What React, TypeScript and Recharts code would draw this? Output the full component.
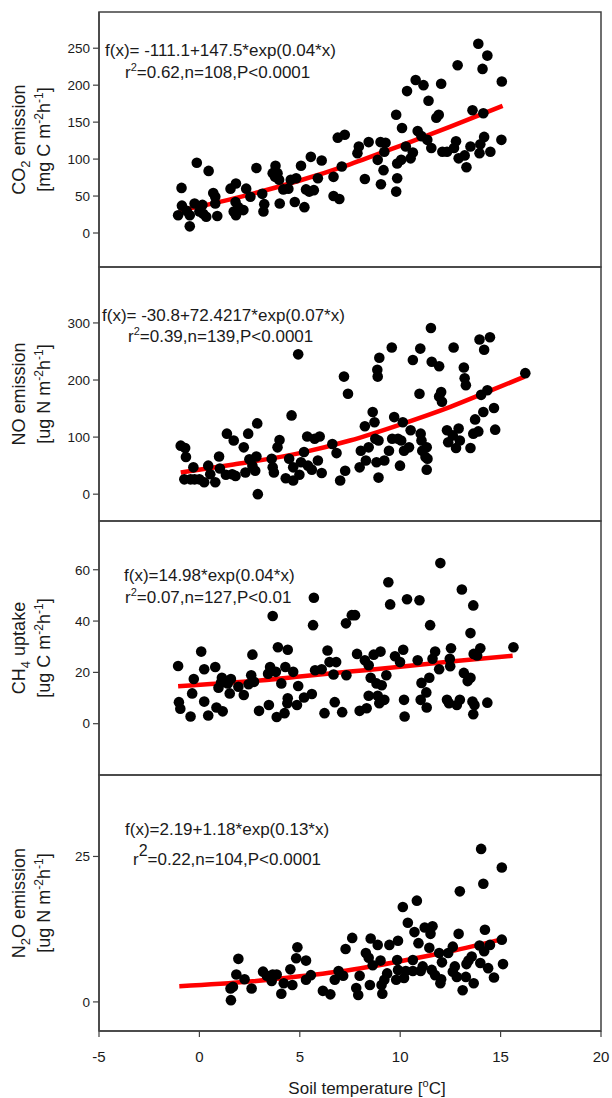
import React from 'react';
import { ComposedChart, Scatter, Line, XAxis, YAxis, ReferenceArea } from 'recharts';

const FONT = '"Liberation Sans", Arial, Helvetica, sans-serif';
const FRAME = '#404040';
const TEXT = '#1a1a1a';
const RED = '#ff0000';

// shared x axis: soil temperature [°C]
const tempTicks = [-5, 0, 5, 10, 15, 20];
const tempDomain: [number, number] = [-5, 20];

// ---------- CO2 emission [mg C m-2 h-1] ----------
const co2Ticks = [0, 50, 100, 150, 200, 250];
const co2Domain: [number, number] = [-46, 299];
const co2Points: [number, number][] = [
  [-0.89, 61], [-1.06, 24], [-0.87, 37], [-0.48, 9], [-0.48, 24], [-0.24, 40], [-0.13, 95], [0, 29],
  [0.15, 38], [0.34, 22], [0.46, 84], [0.69, 54], [0.79, 49], [0.79, 40], [0.89, 23], [1.55, 60],
  [1.71, 29], [1.82, 67], [1.8, 42], [1.82, 24], [2.19, 31], [2.33, 60], [2.54, 49], [2.84, 88],
  [3.13, 53], [3.23, 39], [3.19, 29], [3.79, 91], [3.89, 81], [3.77, 76], [3.97, 72], [4.0, 40],
  [4.43, 60], [4.55, 72], [4.75, 42], [4.82, 74], [5.06, 91], [5.23, 35], [5.31, 59], [5.47, 56],
  [5.55, 103], [5.9, 74], [6.09, 98], [6.68, 76], [6.68, 50], [6.89, 129], [6.97, 46], [7.09, 90],
  [7.24, 133], [7.87, 108], [7.94, 117], [8.24, 73], [8.43, 123], [8.88, 99], [9.02, 123], [9.04, 66],
  [9.17, 85], [9.27, 122], [9.21, 110], [9.8, 160], [9.8, 56], [9.85, 74], [9.85, 94], [10.05, 99],
  [10.09, 142], [10.28, 117], [10.34, 192], [10.52, 101], [10.63, 109], [10.77, 207], [10.87, 138], [11.16, 200],
  [11.06, 131], [11.41, 179], [11.55, 115], [11.8, 156], [11.92, 160], [12.04, 202], [12.1, 110], [12.33, 110],
  [12.68, 115], [12.78, 124], [12.86, 227], [12.91, 101], [13.21, 105], [13.3, 89], [13.5, 117], [13.6, 166],
  [13.89, 256], [13.95, 108], [13.99, 120], [14.1, 222], [14.14, 162], [14.18, 130], [14.34, 240], [14.49, 110],
  [15.06, 205], [15.04, 126], [-0.63, 30], [0.19, 26], [1.94, 35], [3.65, 81], [4.18, 59], [5.7, 58], [11.35, 126],
];
const co2Fit: [number, number][] = [
  [-1, 30], [0, 36], [2.5, 52], [5, 71], [7.5, 93], [10, 118], [12.5, 144], [15.1, 172],
];

// ---------- NO emission [ug N m-2 h-1] ----------
const noTicks = [0, 100, 200, 300];
const noDomain: [number, number] = [-47, 398];
const noPoints: [number, number][] = [
  [-0.93, 85], [-0.71, 81], [-0.67, 65], [-0.75, 26], [-0.44, 26], [-0.3, 47], [-0.24, 26], [0, 26],
  [0.24, 21], [0.44, 50], [0.54, 35], [0.79, 21], [0.98, 66], [1.02, 45], [1.37, 106], [1.63, 35],
  [1.71, 94], [2.21, 82], [2.29, 38], [2.43, 106], [2.49, 61], [2.64, 50], [2.78, 41], [2.88, 124],
  [2.91, 0], [2.84, 66], [3.6, 62], [3.65, 47], [3.89, 82], [3.99, 95], [4.3, 28], [4.59, 138],
  [4.47, 62], [4.67, 47], [4.92, 245], [4.98, 34], [5.06, 56], [5.21, 74], [5.37, 101], [5.6, 43],
  [5.74, 97], [5.9, 59], [5.99, 101], [6.09, 37], [6.62, 88], [6.83, 72], [7.01, 24], [7.2, 206],
  [7.26, 41], [7.4, 176], [7.98, 47], [8.04, 76], [8.24, 119], [8.29, 59], [8.63, 144], [8.72, 126],
  [8.76, 97], [8.82, 56], [8.86, 218], [8.88, 206], [8.92, 94], [8.92, 29], [8.96, 239], [9.21, 59],
  [9.44, 76], [9.58, 257], [9.6, 97], [9.7, 135], [9.89, 97], [9.99, 50], [10.13, 126], [10.19, 76],
  [10.44, 82], [10.52, 112], [10.63, 235], [10.96, 176], [11.0, 255], [11.02, 106], [11.06, 94], [11.1, 76],
  [11.32, 82], [11.36, 62], [11.32, 43], [11.53, 291], [11.57, 232], [11.94, 224], [11.94, 171], [12.04, 179],
  [12.08, 162], [12.33, 112], [12.39, 91], [12.62, 103], [12.66, 257], [12.78, 81], [12.91, 115], [12.97, 94],
  [13.17, 222], [13.21, 203], [13.27, 191], [13.5, 81], [13.64, 106], [13.73, 131], [13.89, 110], [13.95, 271],
  [14.03, 174], [14.14, 144], [14.18, 253], [14.34, 182], [14.47, 275], [14.67, 151], [14.73, 113], [16.23, 212],
  [1.32, 34], [1.8, 32], [3.71, 38], [4.67, 24], [5.41, 50], [10.05, 94], [11.26, 65], [8.43, 82],
];
const noFit: [number, number][] = [
  [-0.93, 38], [1.7, 52], [5, 72], [7.5, 94], [10, 122], [12.5, 153], [14.4, 180], [16.2, 206],
];

// ---------- CH4 uptake [ug C m-2 h-1] ----------
const ch4Ticks = [0, 20, 40, 60];
const ch4Domain: [number, number] = [-20, 79];
const ch4Points: [number, number][] = [
  [-1.06, 22.5], [-1.02, 8.4], [-0.95, 5.8], [-0.44, 2.8], [-0.36, 11.8], [-0.28, 17.4], [0.09, 28.1], [0.24, 21.2],
  [0.24, 8.6], [0.44, 3.2], [0.79, 22.1], [0.85, 6.3], [0.95, 14.0], [1.08, 16.1], [1.12, 17.9], [1.16, 4.8],
  [1.41, 15.7], [1.51, 11.8], [1.57, 17.4], [1.94, 14.4], [2.21, 11.2], [2.45, 15.4], [2.58, 18.9], [2.64, 26.9],
  [2.72, 16.3], [2.97, 5.0], [3.42, 19.5], [3.46, 7.3], [3.52, 22.1], [3.65, 42.0], [3.81, 20.2], [3.85, 2.6],
  [3.91, 29.8], [4.08, 15.7], [4.24, 4.1], [4.28, 22.1], [4.38, 8.0], [4.4, 28.8], [4.4, 9.9], [4.67, 20.2],
  [4.86, 7.3], [4.92, 14.7], [5.21, 10.2], [5.6, 11.6], [5.66, 38.4], [5.7, 49.1], [5.76, 20.8], [6.09, 21.2],
  [6.23, 4.1], [6.38, 28.5], [6.48, 24.0], [6.68, 19.2], [6.74, 8.4], [6.81, 24.0], [7.11, 4.5], [7.3, 39.1],
  [7.32, 18.9], [7.59, 42.3], [7.75, 42.3], [7.85, 27.2], [7.98, 5.0], [8.24, 24.7], [8.33, 6.0], [8.43, 10.9],
  [8.43, 22.8], [8.53, 17.9], [8.68, 26.9], [8.82, 15.7], [8.88, 10.9], [8.96, 8.0], [9.02, 28.1], [9.08, 15.0],
  [9.21, 9.3], [9.31, 18.9], [9.41, 55.1], [9.5, 46.5], [9.74, 26.3], [9.99, 24.0], [10.15, 28.8], [10.19, 9.3],
  [10.22, 2.8], [10.34, 48.5], [10.87, 24.7], [10.96, 48.1], [11.02, 9.3], [11.06, 15.9], [11.3, 12.2], [11.32, 6.3],
  [11.45, 17.9], [11.49, 38.4], [11.61, 25.3], [11.74, 28.1], [11.94, 21.2], [12.0, 62.6], [12.33, 9.3], [12.43, 8.0],
  [12.47, 25.3], [12.49, 22.4], [12.53, 29.4], [12.82, 7.3], [12.97, 9.3], [13.07, 52.3], [13.17, 19.8], [13.36, 16.6],
  [13.5, 35.3], [13.5, 17.9], [13.6, 8.6], [13.64, 46.1], [13.66, 27.2], [13.64, 3.7], [13.7, 7.3], [13.83, 26.6],
  [13.99, 29.4], [14.34, 8.2], [15.64, 29.8],
];
const ch4Fit: [number, number][] = [
  [-1.06, 14.6], [2.5, 16.5], [5, 18.4], [7.5, 20.3], [10, 22.2], [12.5, 24.2], [15.6, 26.5],
];

// ---------- N2O emission [ug N m-2 h-1] ----------
const n2oTicks = [0, 25];
const n2oDomain: [number, number] = [-5, 39];
const n2oPoints: [number, number][] = [
  [1.57, 0.3], [1.55, 2.3], [1.67, 2.6], [1.84, 4.7], [1.94, 7.4], [2.25, 3.9], [2.6, 2.3], [3.17, 5.2],
  [3.36, 4.5], [3.6, 3.6], [3.65, 4.7], [3.85, 4.7], [4.08, 1.4], [4.2, 3.2], [4.53, 5.6], [4.63, 2.9],
  [4.82, 7.5], [4.88, 9.4], [5.31, 7.1], [5.31, 3.8], [5.55, 4.6], [6.15, 1.9], [6.52, 1.3], [6.74, 3.8],
  [6.93, 5.3], [7.16, 4.5], [7.28, 9.1], [7.61, 11.0], [7.81, 2.4], [7.91, 1.2], [7.98, 4.5], [8.29, 8.4],
  [8.43, 7.6], [8.49, 2.9], [8.53, 10.9], [8.63, 6.3], [8.88, 9.8], [9.02, 7.1], [9.07, 2.9], [9.11, 1.4],
  [9.21, 3.8], [9.35, 4.9], [9.46, 9.8], [9.8, 3.8], [9.89, 10.5], [9.85, 7.2], [9.89, 5.5], [10.13, 16.3],
  [10.19, 4.1], [10.28, 5.3], [10.38, 13.6], [10.63, 7.2], [10.63, 5.3], [10.71, 12.0], [10.83, 17.4], [10.91, 10.1],
  [11.02, 5.3], [11.12, 6.1], [11.22, 12.8], [11.45, 9.3], [11.51, 11.7], [11.61, 13.0], [11.57, 5.5], [11.74, 4.6],
  [11.94, 8.4], [12.0, 3.2], [12.08, 6.8], [12.04, 3.9], [12.39, 8.4], [12.62, 9.5], [12.62, 5.2], [12.72, 6.1],
  [12.82, 4.3], [12.91, 11.7], [12.97, 19.0], [13.11, 2.0], [13.27, 4.3], [13.3, 6.5], [13.4, 7.1], [13.56, 7.8],
  [13.66, 3.2], [13.95, 9.7], [13.99, 6.7], [14.03, 26.3], [14.14, 20.3], [14.18, 8.7], [14.22, 12.4], [14.38, 5.8],
  [14.47, 9.8], [14.67, 4.2], [15.06, 23.1], [15.06, 10.7], [15.12, 6.5],
];
const n2oFit: [number, number][] = [
  [-1, 2.7], [2.5, 3.5], [5, 4.4], [7.5, 5.5], [10, 7.0], [12.5, 8.7], [15.1, 10.8],
];

const PAD = 4;
const PLOT_LEFT = 99;
const PLOT_RIGHT = 601;
const PAGE_W = 612;
const PAGE_H = 1098;

const Dot = (props: any) => {
  if (props.cx == null || props.cy == null) return null;
  return <circle cx={props.cx} cy={props.cy} r={5.3} fill="#000" />;
};

type PanelDef = {
  plotTop: number;
  plotBottom: number;
  points: [number, number][];
  fit: [number, number][];
  ticks: number[];
  domain: [number, number];
  title1: React.ReactNode;
  title2: React.ReactNode;
  eq1: React.ReactNode;
  eq2: React.ReactNode;
  eq1Pos: [number, number];
  eq2Pos: [number, number];
  showX?: boolean;
};

function Panel(p: PanelDef) {
  const top = p.plotTop - PAD;
  const plotH = p.plotBottom - p.plotTop;
  const height = p.showX ? PAGE_H - top : plotH + 2 * PAD;
  const xAxisH = PAGE_H - p.plotBottom;
  const scatterData = p.points.map(([x, y]) => ({ x, y }));
  const fitData = p.fit.map(([x, y]) => ({ x, y }));
  const cy = PAD + plotH / 2;

  const yTitle = () => (
    <g fontFamily={FONT} fontSize={18} fill={TEXT}>
      <text x={25} y={cy} transform={`rotate(-90 25 ${cy})`} textAnchor="middle">{p.title1}</text>
      <text x={50} y={cy} transform={`rotate(-90 50 ${cy})`} textAnchor="middle">{p.title2}</text>
    </g>
  );

  const eqLabel = () => (
    <g fontFamily={FONT} fontSize={17} fill={TEXT}>
      <text x={p.eq1Pos[0]} y={PAD + p.eq1Pos[1]}>{p.eq1}</text>
      <text x={p.eq2Pos[0]} y={PAD + p.eq2Pos[1]}>{p.eq2}</text>
    </g>
  );

  const xTitle = () => (
    <text x={367} y={PAD + plotH + 63} textAnchor="middle" fontFamily={FONT} fontSize={17} fill={TEXT}>
      <tspan>Soil temperature [</tspan>
      <tspan dy={-7} fontSize={11}>o</tspan>
      <tspan dy={7}>C]</tspan>
    </text>
  );

  return (
    <div style={{ position: 'absolute', left: 0, top }}>
      <ComposedChart
        width={PAGE_W}
        height={height}
        margin={{ top: PAD, right: PAGE_W - PLOT_RIGHT, bottom: p.showX ? 0 : PAD, left: 0 }}
      >
        <XAxis
          type="number"
          dataKey="x"
          domain={tempDomain}
          ticks={tempTicks}
          allowDataOverflow
          hide={!p.showX}
          height={xAxisH}
          tickSize={6}
          tickMargin={14}
          tick={{ fontSize: 15, fill: TEXT, fontFamily: FONT }}
          axisLine={{ stroke: FRAME, strokeWidth: 1.5 }}
          tickLine={{ stroke: FRAME, strokeWidth: 1.2 }}
          label={p.showX ? xTitle : undefined}
        />
        <YAxis
          type="number"
          dataKey="y"
          domain={p.domain}
          ticks={p.ticks}
          allowDataOverflow
          width={PLOT_LEFT}
          tickSize={6}
          tickMargin={3}
          tick={{ fontSize: 13.5, fill: TEXT, fontFamily: FONT }}
          axisLine={{ stroke: FRAME, strokeWidth: 1.5 }}
          tickLine={{ stroke: FRAME, strokeWidth: 1.2 }}
          label={yTitle}
        />
        <ReferenceArea
          x1={tempDomain[0]}
          x2={tempDomain[1]}
          y1={p.domain[0]}
          y2={p.domain[1]}
          fill="none"
          fillOpacity={0}
          stroke={FRAME}
          strokeWidth={1.5}
          label={eqLabel}
        />
        <Scatter data={scatterData} shape={Dot} isAnimationActive={false} />
        <Line
          data={fitData}
          dataKey="y"
          type="monotone"
          stroke={RED}
          strokeWidth={4.5}
          dot={false}
          activeDot={false}
          isAnimationActive={false}
        />
      </ComposedChart>
    </div>
  );
}

const unit = (letter: string) => (
  <>
    <tspan>{`[${letter} m`}</tspan>
    <tspan dy={-7} fontSize={12}>-2</tspan>
    <tspan dy={7}>h</tspan>
    <tspan dy={-7} fontSize={12}>-1</tspan>
    <tspan dy={7}>]</tspan>
  </>
);

const r2 = (rest: string, big = false) => (
  <>
    <tspan>r</tspan>
    <tspan dy={big ? -9 : -7} fontSize={big ? 16 : 11}>2</tspan>
    <tspan dy={big ? 9 : 7}>{rest}</tspan>
  </>
);

export default function App() {
  return (
    <div style={{ position: 'absolute', left: 0, top: 0, width: PAGE_W, height: PAGE_H, background: '#fff' }}>
      <Panel
        plotTop={12}
        plotBottom={267}
        points={co2Points}
        fit={co2Fit}
        ticks={co2Ticks}
        domain={co2Domain}
        title1={<><tspan>CO</tspan><tspan dy={5} fontSize={13}>2</tspan><tspan dy={-5}> emission</tspan></>}
        title2={unit('mg C')}
        eq1={'f(x)= -111.1+147.5*exp(0.04*x)'}
        eq2={r2('=0.62,n=108,P<0.0001')}
        eq1Pos={[105, 44]}
        eq2Pos={[125, 66]}
      />
      <Panel
        plotTop={267}
        plotBottom={521}
        points={noPoints}
        fit={noFit}
        ticks={noTicks}
        domain={noDomain}
        title1={'NO emission'}
        title2={unit('ug N')}
        eq1={'f(x)= -30.8+72.4217*exp(0.07*x)'}
        eq2={r2('=0.39,n=139,P<0.0001')}
        eq1Pos={[102, 54]}
        eq2Pos={[128, 75]}
      />
      <Panel
        plotTop={521}
        plotBottom={775}
        points={ch4Points}
        fit={ch4Fit}
        ticks={ch4Ticks}
        domain={ch4Domain}
        title1={<><tspan>CH</tspan><tspan dy={5} fontSize={13}>4</tspan><tspan dy={-5}> uptake</tspan></>}
        title2={unit('ug C')}
        eq1={'f(x)=14.98*exp(0.04*x)'}
        eq2={r2('=0.07,n=127,P<0.01')}
        eq1Pos={[124, 60]}
        eq2Pos={[125, 82]}
      />
      <Panel
        plotTop={775}
        plotBottom={1031}
        points={n2oPoints}
        fit={n2oFit}
        ticks={n2oTicks}
        domain={n2oDomain}
        title1={<><tspan>N</tspan><tspan dy={5} fontSize={13}>2</tspan><tspan dy={-5}>O emission</tspan></>}
        title2={unit('ug N')}
        eq1={'f(x)=2.19+1.18*exp(0.13*x)'}
        eq2={r2('=0.22,n=104,P<0.0001', true)}
        eq1Pos={[125, 60]}
        eq2Pos={[133, 90]}
        showX
      />
    </div>
  );
}
